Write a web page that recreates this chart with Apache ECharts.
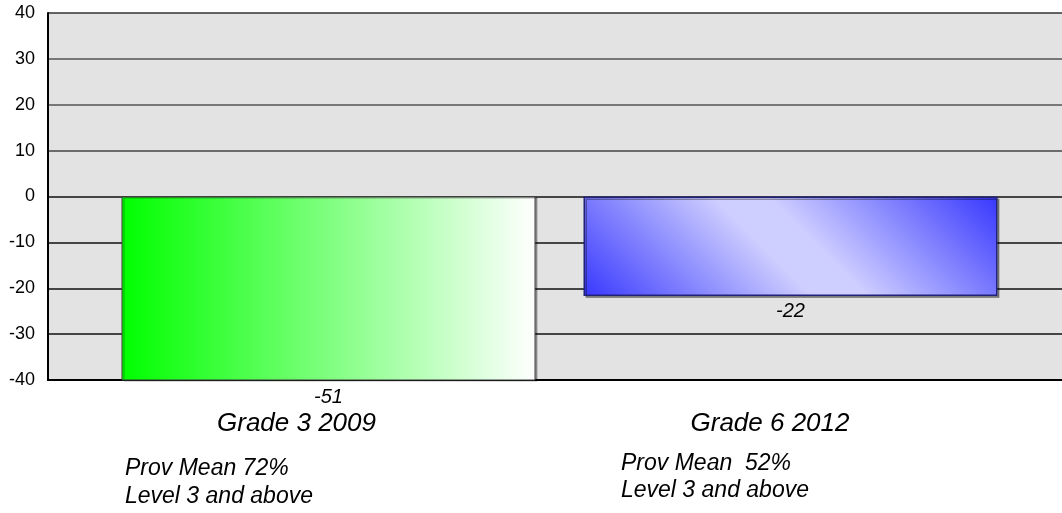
<!DOCTYPE html>
<html>
<head>
<meta charset="utf-8">
<script src="https://cdn.jsdelivr.net/npm/echarts@6/dist/echarts.min.js"></script>
<style>
html,body{margin:0;padding:0;background:#fff;}
#chart{width:1062px;height:513px;}
</style>
</head>
<body>
<div id="chart"></div>
<script>
// ---- data ----
const categories = ['Grade 3 2009', 'Grade 6 2012'];
const grade3Values = [-51, null];
const grade6Values = [null, -21.7];
const spacerValues = [null, null];
const yMin = -40;
const yMax = 40;
const yInterval = 10;
const noteGrade3 = ['Prov Mean 72%', 'Level 3 and above'];
const noteGrade6 = ['Prov Mean  52%', 'Level 3 and above'];

const FONT = '"Liberation Sans", Arial, sans-serif';
const GAP = '-89.13%';

const chart = echarts.init(document.getElementById('chart'), null, {renderer: 'canvas'});

const option = {
  animation: false,
  backgroundColor: '#ffffff',
  grid: {
    left: 48, right: 0, top: 13, bottom: 133,
    show: true, backgroundColor: '#e3e3e3', borderWidth: 0
  },
  xAxis: {
    type: 'category',
    data: categories,
    axisLine: {show: true, onZero: false, lineStyle: {color: '#000', width: 2}},
    axisTick: {show: false},
    splitLine: {show: false},
    axisLabel: {
      interval: 0,
      margin: 31,
      fontFamily: FONT,
      fontStyle: 'italic',
      fontSize: 26,
      color: '#000',
      formatter: function (v, i) { return (i === 0 ? '{a|' : '{b|') + v + '}'; },
      rich: {
        a: {fontFamily: FONT, fontStyle: 'italic', fontSize: 26, color: '#000', padding: [0, 10, 0, 0]},
        b: {fontFamily: FONT, fontStyle: 'italic', fontSize: 26, color: '#000', padding: [0, 77, 0, 0]}
      }
    }
  },
  yAxis: {
    type: 'value',
    min: yMin, max: yMax, interval: yInterval,
    axisLine: {show: true, lineStyle: {color: '#000', width: 2}},
    axisTick: {show: false},
    axisLabel: {fontFamily: FONT, fontSize: 18, color: '#000', margin: 13},
    splitLine: {
      show: true,
      lineStyle: {color: ['#111', '#111', '#111', '#111', '#111', '#444', '#555', '#555', '#333'], width: 1.5}
    }
  },
  series: [
    {
      name: 'Grade 6 2012',
      type: 'bar',
      data: grade6Values,
      barWidth: 414,
      barGap: GAP,
      itemStyle: {
        color: {
          type: 'linear', x: 0, y: 1, x2: 0.62, y2: -1.575,
          colorStops: [
            {offset: 0, color: '#3838ff'},
            {offset: 0.45, color: '#cfcfff'},
            {offset: 0.55, color: '#cfcfff'},
            {offset: 1, color: '#3838ff'}
          ]
        },
        borderColor: '#22227a', borderWidth: 1.5,
        shadowColor: 'rgba(0,0,0,0.35)', shadowOffsetX: 2, shadowOffsetY: 2
      },
      label: {
        show: true, position: 'bottom', distance: 5,
        fontFamily: FONT, fontStyle: 'italic', fontSize: 20, color: '#000',
        formatter: function (p) { return Math.round(p.value); }
      }
    },
    {
      name: 'Grade 3 2009',
      type: 'bar',
      data: grade3Values,
      barWidth: 414,
      barGap: GAP,
      itemStyle: {
        color: {
          type: 'linear', x: 0, y: 0, x2: 1, y2: 0,
          colorStops: [
            {offset: 0, color: '#00ff00'},
            {offset: 1, color: '#ffffff'}
          ]
        },
        borderColor: '#3a3a3a', borderWidth: 1,
        shadowColor: 'rgba(0,0,0,0.3)', shadowOffsetX: 2, shadowOffsetY: 1
      },
      label: {
        show: true, position: 'bottom', distance: 7,
        fontFamily: FONT, fontStyle: 'italic', fontSize: 20, color: '#000',
        formatter: function (p) { return Math.round(p.value); }
      }
    },
    {
      name: 'spacer',
      type: 'bar',
      data: spacerValues,
      barWidth: 360,
      barGap: GAP,
      silent: true,
      itemStyle: {color: 'transparent'}
    }
  ],
  graphic: [
    {
      type: 'text', left: 125, top: 455,
      style: {text: noteGrade3.join('\n'), font: 'italic 23px ' + FONT, fill: '#000', lineHeight: 27.5}
    },
    {
      type: 'text', left: 621, top: 450,
      style: {text: noteGrade6.join('\n'), font: 'italic 23px ' + FONT, fill: '#000', lineHeight: 27}
    }
  ]
};
chart.setOption(option);
</script>
</body>
</html>
